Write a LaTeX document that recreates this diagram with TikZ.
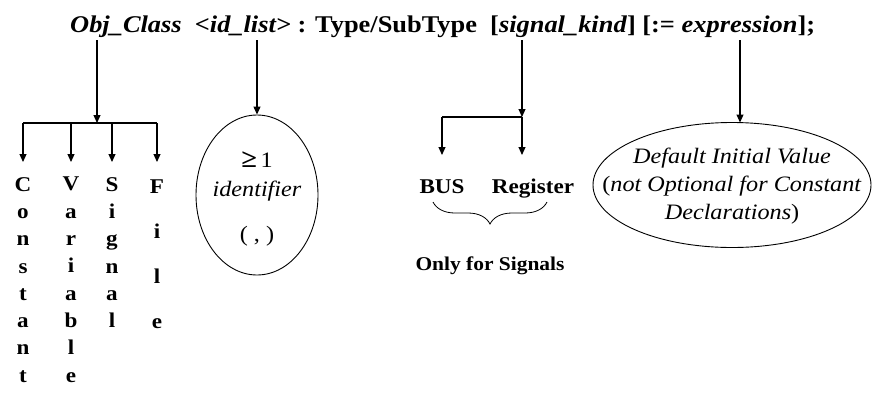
\documentclass[tikz,border=0pt]{standalone}
\usepackage{fontspec}
\setmainfont{Liberation Serif}[FakeStretch=1.1]
\usetikzlibrary{shapes.geometric,arrows.meta,decorations.pathreplacing}

\begin{document}
\begin{tikzpicture}[x=1pt,y=-1pt,
  arr/.style={line width=1.1pt,-{Triangle[width=7pt,length=8pt]}},
  wire/.style={line width=1.1pt},
  letters/.style={font=\fontsize{21}{27.3}\selectfont\bfseries,align=center,inner sep=0pt,anchor=north},
  bubble/.style={draw,ellipse,line width=0.9pt,inner sep=0pt},
  bubbletext/.style={align=center,inner sep=0pt,font=\fontsize{22}{28}\selectfont},
  boldtext/.style={inner sep=0pt,font=\fontsize{21}{25}\selectfont\bfseries,anchor=base}]
\useasboundingbox (0,0) rectangle (883,394);

% declaration syntax line
\node[anchor=base west,inner sep=0pt,font=\fontsize{24}{28}\selectfont\bfseries] (title) at (70,32)
  {\textit{Obj\_Class}\ \ \textit{<id\_list>} : Type/SubType\ \ [\textit{signal\_kind}] [:= \textit{expression}];};

\coordinate (s1) at (97,40);
\coordinate (s2) at (257,40);
\coordinate (s3) at (522,40);
\coordinate (s4) at (740,40);

% object classes
\coordinate (j1) at (97,123);
\node[letters] (const) at (23,177) {C\\o\\n\\s\\t\\a\\n\\t};
\node[letters] (var)   at (71,177) {V\\a\\r\\i\\a\\b\\l\\e};
\node[letters] (sig)   at (112,177) {S\\i\\g\\n\\a\\l};
\node[letters,font=\fontsize{21}{45}\selectfont\bfseries] (file) at (157,180) {F\\i\\l\\e};

\draw[arr] (s1) -- (j1);
\draw[wire] (j1 -| const) -- (j1 -| file);
\foreach \n in {const,var,sig,file}
  \draw[arr] (j1 -| \n) -- ([yshift=15pt]\n.north |- 0,177);

% identifier list
\node[bubble,minimum width=122pt,minimum height=160pt] (idl) at (257,195) {};
\node[bubbletext] (idltext) at (257,199) {{\fontsize{26}{28}\selectfont\bfseries ≥}\,1\\[1pt]\textit{identifier}\\[17pt]( , )};
\draw[arr] (s2) -- (idl.north);

% signal kind
\coordinate (j3) at (522,117);
\node[boldtext] (bus) at (442,193) {BUS};
\node[boldtext] (reg) at (533,193) {Register};
\draw[arr] (s3) -- (j3);
\draw[wire] (j3) -- (j3 -| bus);
\draw[arr] (j3 -| bus) -- (442,155);
\draw[arr] (j3) -- (522,155);
\coordinate (b1) at (433,202);
\coordinate (b2) at (547,202);
\draw[line width=0.8pt,decorate,decoration={brace,mirror,amplitude=22pt,aspect=0.5}] (b1) -- (b2);
\node[boldtext,font=\fontsize{19.5}{24}\selectfont\bfseries] (only) at (490,270) {Only for Signals};

% initial value
\node[bubble,minimum width=278pt,minimum height=125pt] (init) at (732,185) {};
\node[bubbletext] (inittext) at (732,186) {\textit{Default Initial Value}\\(\textit{not Optional for Constant}\\\textit{Declarations})};
\coordinate (e4) at (740,122.5);
\draw[arr] (s4) -- (e4);
\end{tikzpicture}
\end{document}
